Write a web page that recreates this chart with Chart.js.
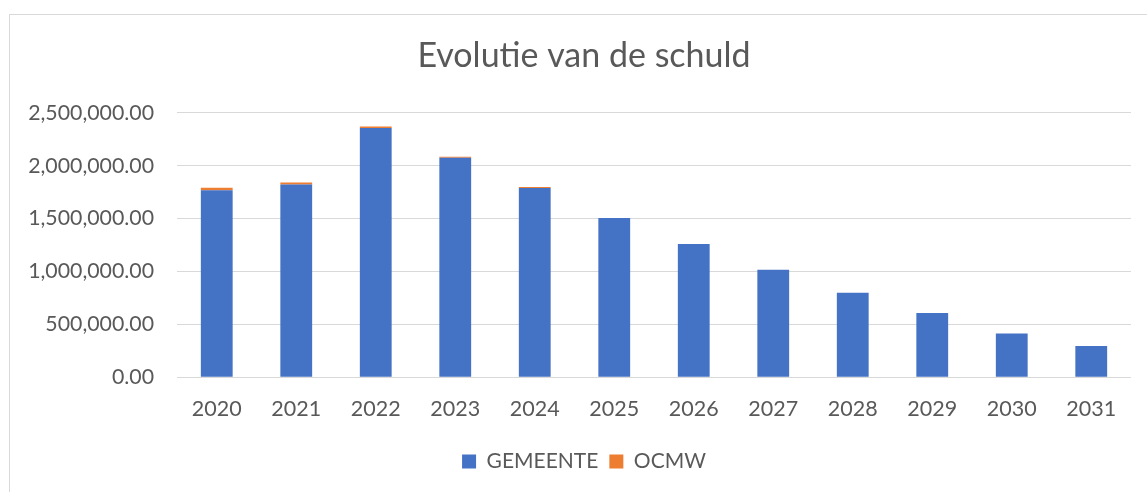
<!DOCTYPE html>
<html>
<head>
<meta charset="utf-8">
<script src="https://cdn.jsdelivr.net/npm/chart.js@4"></script>
<style>
  html, body { margin: 0; padding: 0; background: #fff; overflow: hidden; }
  #frame {
    position: absolute; left: 9px; top: 14px; width: 1300px; height: 600px;
    border: 1px solid #d9d9d9; box-sizing: border-box;
  }
  #wrap { position: absolute; left: 0; top: 0; width: 1147px; height: 492px; }
</style>
</head>
<body>
<div id="frame"></div>
<div id="wrap"><canvas id="schuldChart"></canvas></div>
<script>
const years = ['2020', '2021', '2022', '2023', '2024', '2025', '2026', '2027', '2028', '2029', '2030', '2031'];
const gemeente = [1767000, 1821000, 2356000, 2074000, 1790000, 1505000, 1259000, 1016000, 798000, 606000, 413000, 296000];
const ocmw = [25000, 19000, 14000, 11000, 8000, 0, 0, 0, 0, 0, 0, 0];
const yTicks = [0, 500000, 1000000, 1500000, 2000000, 2500000];

const textColor = '#595959';
const fontFamily = 'Lato, "Open Sans", sans-serif';

function formatAmount(v) {
    return new Intl.NumberFormat('en-US', { minimumFractionDigits: 2, maximumFractionDigits: 2 }).format(v);
}

// title + legend are centred on the whole (wider) chart frame -> nudge their boxes right
const shiftCentre = {
    id: 'shiftCentre',
    afterLayout(chart) {
        if (chart.titleBlock) chart.titleBlock.left += 37;
        if (chart.legend) chart.legend.left += 37;
    }
};

const ctx = document.getElementById('schuldChart').getContext('2d');
new Chart(ctx, {
    type: 'bar',
    data: {
        labels: years,
        datasets: [
            { label: 'GEMEENTE', data: gemeente, backgroundColor: '#4472C4', barPercentage: 0.4, categoryPercentage: 1 },
            { label: 'OCMW', data: ocmw, backgroundColor: '#ED7D31', barPercentage: 0.4, categoryPercentage: 1 }
        ]
    },
    options: {
        responsive: true,
        maintainAspectRatio: false,
        animation: false,
        layout: { padding: { left: 0, right: 16, top: 0, bottom: 10 } },
        scales: {
            x: {
                stacked: true,
                grid: { display: false, drawTicks: false },
                border: { display: false },
                ticks: { color: textColor, font: { family: fontFamily, size: 21.5 }, padding: 18.5, maxRotation: 0 }
            },
            y: {
                stacked: true,
                min: 0,
                max: 2500000,
                afterBuildTicks: (scale) => { scale.ticks = yTicks.map(v => ({ value: v })); },
                afterFit: (scale) => { scale.width = 177; },
                grid: { color: '#d9d9d9', drawTicks: false },
                border: { display: false },
                ticks: {
                    color: textColor,
                    font: { family: fontFamily, size: 21.3 },
                    padding: 23,
                    callback: (v) => formatAmount(v)
                }
            }
        },
        plugins: {
            title: {
                display: true,
                text: 'Evolutie van de schuld',
                color: textColor,
                font: { family: fontFamily, size: 34, weight: 'normal' },
                padding: { top: 36, bottom: 36 }
            },
            legend: {
                display: true,
                position: 'bottom',
                labels: {
                    color: textColor,
                    font: { family: fontFamily, size: 21 },
                    boxWidth: 14,
                    boxHeight: 14,
                    padding: 11
                }
            },
            tooltip: { enabled: false }
        }
    },
    plugins: [shiftCentre]
});
</script>
</body>
</html>
